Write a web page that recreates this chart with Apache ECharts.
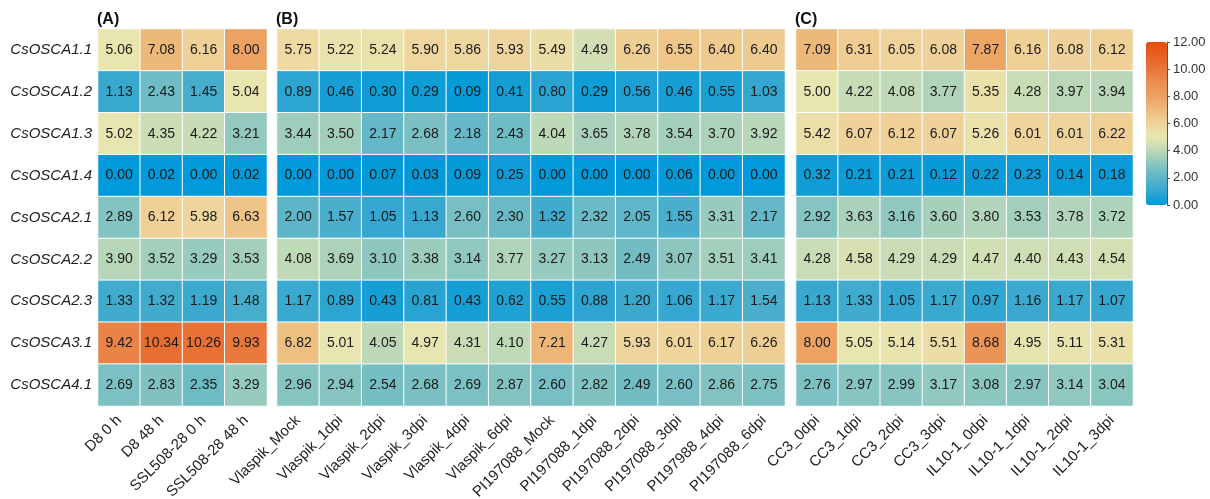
<!DOCTYPE html>
<html>
<head>
<meta charset="utf-8">
<script src="https://cdn.jsdelivr.net/npm/echarts@6/dist/echarts.min.js"></script>
<style>
  html, body { margin: 0; padding: 0; background: #fff; }
  #main { width: 1210px; height: 499px; }
</style>
</head>
<body>
<div id="main"></div>
<script>
const rowNames = ['CsOSCA1.1', 'CsOSCA1.2', 'CsOSCA1.3', 'CsOSCA1.4', 'CsOSCA2.1', 'CsOSCA2.2', 'CsOSCA2.3', 'CsOSCA3.1', 'CsOSCA4.1']

const colsA = ['D8 0 h', 'D8 48 h', 'SSL508-28 0 h', 'SSL508-28 48 h']
const colsB = ['Vlaspik_Mock', 'Vlaspik_1dpi', 'Vlaspik_2dpi', 'Vlaspik_3dpi', 'Vlaspik_4dpi', 'Vlaspik_6dpi',
  'PI197088_Mock', 'PI197088_1dpi', 'PI197088_2dpi', 'PI197088_3dpi', 'PI197988_4dpi', 'PI197088_6dpi']
const colsC = ['CC3_0dpi', 'CC3_1dpi', 'CC3_2dpi', 'CC3_3dpi', 'IL10-1_0dpi', 'IL10-1_1dpi', 'IL10-1_2dpi', 'IL10-1_3dpi']

// one row per gene, same order as rowNames
const valsA = [
  [5.06, 7.08, 6.16, 8.00],
  [1.13, 2.43, 1.45, 5.04],
  [5.02, 4.35, 4.22, 3.21],
  [0.00, 0.02, 0.00, 0.02],
  [2.89, 6.12, 5.98, 6.63],
  [3.90, 3.52, 3.29, 3.53],
  [1.33, 1.32, 1.19, 1.48],
  [9.42, 10.34, 10.26, 9.93],
  [2.69, 2.83, 2.35, 3.29]
]
const valsB = [
  [5.75, 5.22, 5.24, 5.90, 5.86, 5.93, 5.49, 4.49, 6.26, 6.55, 6.40, 6.40],
  [0.89, 0.46, 0.30, 0.29, 0.09, 0.41, 0.80, 0.29, 0.56, 0.46, 0.55, 1.03],
  [3.44, 3.50, 2.17, 2.68, 2.18, 2.43, 4.04, 3.65, 3.78, 3.54, 3.70, 3.92],
  [0.00, 0.00, 0.07, 0.03, 0.09, 0.25, 0.00, 0.00, 0.00, 0.06, 0.00, 0.00],
  [2.00, 1.57, 1.05, 1.13, 2.60, 2.30, 1.32, 2.32, 2.05, 1.55, 3.31, 2.17],
  [4.08, 3.69, 3.10, 3.38, 3.14, 3.77, 3.27, 3.13, 2.49, 3.07, 3.51, 3.41],
  [1.17, 0.89, 0.43, 0.81, 0.43, 0.62, 0.55, 0.88, 1.20, 1.06, 1.17, 1.54],
  [6.82, 5.01, 4.05, 4.97, 4.31, 4.10, 7.21, 4.27, 5.93, 6.01, 6.17, 6.26],
  [2.96, 2.94, 2.54, 2.68, 2.69, 2.87, 2.60, 2.82, 2.49, 2.60, 2.86, 2.75]
]
const valsC = [
  [7.09, 6.31, 6.05, 6.08, 7.87, 6.16, 6.08, 6.12],
  [5.00, 4.22, 4.08, 3.77, 5.35, 4.28, 3.97, 3.94],
  [5.42, 6.07, 6.12, 6.07, 5.26, 6.01, 6.01, 6.22],
  [0.32, 0.21, 0.21, 0.12, 0.22, 0.23, 0.14, 0.18],
  [2.92, 3.63, 3.16, 3.60, 3.80, 3.53, 3.78, 3.72],
  [4.28, 4.58, 4.29, 4.29, 4.47, 4.40, 4.43, 4.54],
  [1.13, 1.33, 1.05, 1.17, 0.97, 1.16, 1.17, 1.07],
  [8.00, 5.05, 5.14, 5.51, 8.68, 4.95, 5.11, 5.31],
  [2.76, 2.97, 2.99, 3.17, 3.08, 2.97, 3.14, 3.04]
]

const panelTitles = ['(A)', '(B)', '(C)']
const scaleTicks = [0, 12, 2] // min, max, step

// colour ramp, one stop per unit from 0 to 12
const ramp = ['#0099d9', '#33a6d0', '#5db5c8', '#88c5c0', '#bcd8b8', '#e8e6b0', '#efd49c',
  '#edbb7c', '#eba262', '#ea8e4f', '#e8763a', '#e86122', '#e84c0c']

const font = 'Liberation Sans, Arial, sans-serif'

function toCells(vals) {
  const out = []
  vals.forEach((row, y) => row.forEach((v, x) => out.push([x, y, v])))
  return out
}

// v6 shrinks grids to keep labels inside by default, switch that off
const grids = [
  { left: 98, top: 29, width: 169, height: 377 },
  { left: 277, top: 29, width: 508, height: 377 },
  { left: 796, top: 29, width: 337, height: 377 },
  { left: 1167, top: 42, width: 1, height: 163 }
].map(g => Object.assign(g, { containLabel: false, outerBoundsMode: 'none' }))

const colSets = [colsA, colsB, colsC]
const valSets = [valsA, valsB, valsC]

const xAxes = colSets.map((cols, i) => ({
  type: 'category',
  gridIndex: i,
  data: cols,
  axisLine: { show: false },
  axisTick: { show: false },
  splitArea: { show: false },
  axisLabel: {
    interval: 0,
    rotate: 45,
    margin: 12,
    fontSize: 15,
    color: '#222',
    fontFamily: font
  }
}))
xAxes.push({ type: 'value', gridIndex: 3, show: false, min: 0, max: 1 })

const yAxes = colSets.map((cols, i) => ({
  type: 'category',
  gridIndex: i,
  data: rowNames,
  inverse: true,
  axisLine: { show: false },
  axisTick: { show: false },
  axisLabel: {
    show: i === 0,
    margin: 6,
    fontSize: 15,
    fontStyle: 'italic',
    color: '#222',
    fontFamily: font
  }
}))
// scale next to the colour bar
yAxes.push({
  type: 'value',
  gridIndex: 3,
  position: 'right',
  min: scaleTicks[0],
  max: scaleTicks[1],
  interval: scaleTicks[2],
  axisLine: { show: true, lineStyle: { color: '#555', width: 1 } },
  axisTick: { show: true, length: 3, lineStyle: { color: '#555' } },
  splitLine: { show: false },
  axisLabel: {
    margin: 5,
    fontSize: 13,
    color: '#333',
    fontFamily: font,
    formatter: v => v.toFixed(2)
  }
})

const series = valSets.map((vals, i) => ({
  type: 'heatmap',
  xAxisIndex: i,
  yAxisIndex: i,
  data: toCells(vals),
  itemStyle: { borderColor: '#fff', borderWidth: 1 },
  emphasis: { disabled: true },
  label: {
    show: true,
    fontSize: 14,
    color: '#1a1a1a',
    fontFamily: font,
    formatter: p => p.value[2].toFixed(2)
  }
}))

const option = {
  animation: false,
  backgroundColor: '#fff',
  title: panelTitles.map((t, i) => ({
    text: t,
    left: grids[i].left - 1,
    top: 12,
    padding: 0,
    textStyle: { fontSize: 16, fontWeight: 'bold', color: '#111', fontFamily: font }
  })),
  grid: grids,
  xAxis: xAxes,
  yAxis: yAxes,
  visualMap: {
    type: 'continuous',
    min: scaleTicks[0],
    max: scaleTicks[1],
    seriesIndex: [0, 1, 2],
    calculable: false,
    hoverLink: false,
    orient: 'vertical',
    left: 1146,
    top: 42,
    padding: 0,
    itemWidth: 21,
    itemHeight: 163,
    text: null,
    inRange: { color: ramp }
  },
  series: series
}

const myChart = echarts.init(document.getElementById('main'))
myChart.setOption(option)
</script>
</body>
</html>
